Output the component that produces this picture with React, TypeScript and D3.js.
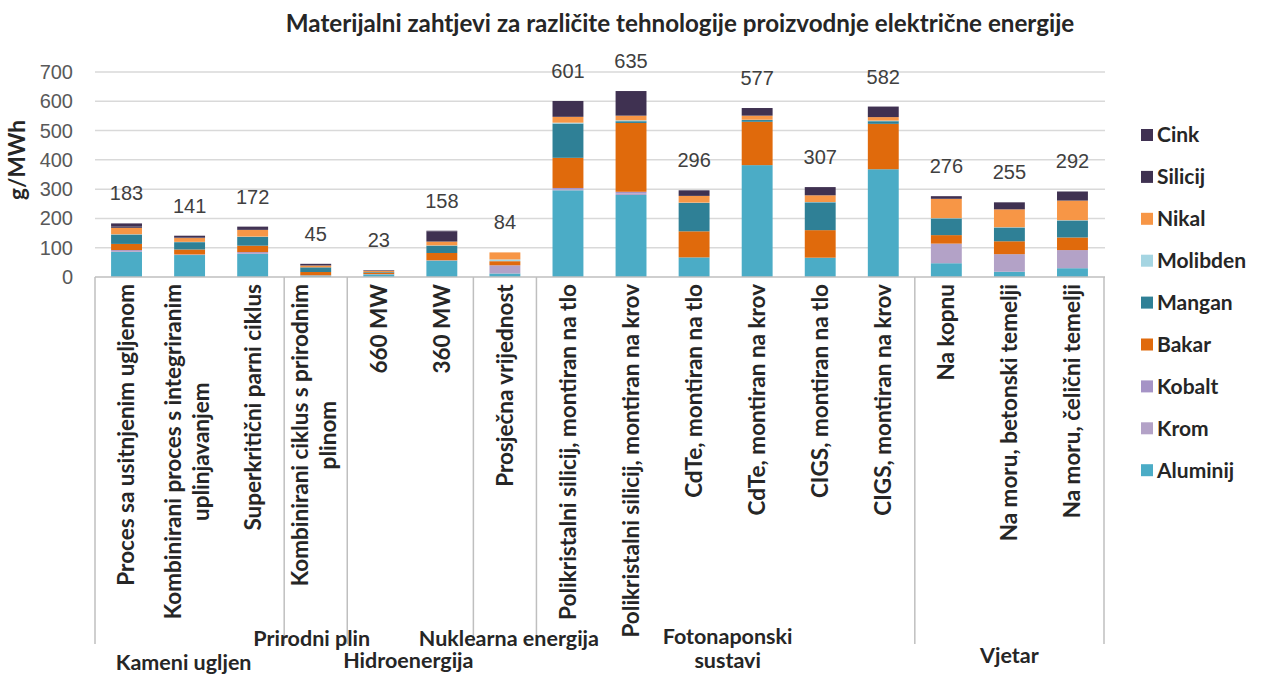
import React from "react";
import * as d3 from "d3";

const title = "Materijalni zahtjevi za različite tehnologije proizvodnje električne energije";
const yAxisTitle = "g/MWh";

const categories = [
  "Proces sa usitnjenim ugljenom",
  "Kombinirani proces s integriranim\nuplinjavanjem",
  "Superkritični parni ciklus",
  "Kombinirani ciklus s prirodnim\nplinom",
  "660 MW",
  "360 MW",
  "Prosječna vrijednost",
  "Polikristalni silicij, montiran na tlo",
  "Polikristalni silicij, montiran na krov",
  "CdTe, montiran na tlo",
  "CdTe, montiran na krov",
  "CIGS, montiran na tlo",
  "CIGS, montiran na krov",
  "Na kopnu",
  "Na moru, betonski temelji",
  "Na moru, čelični temelji",
];

const groups = [
  { name: "Kameni ugljen", count: 3 },
  { name: "Prirodni plin", count: 1 },
  { name: "Hidroenergija", count: 2 },
  { name: "Nuklearna energija", count: 1 },
  { name: "Fotonaponski\nsustavi", count: 6 },
  { name: "Vjetar", count: 3 },
];

const totals = [183, 141, 172, 45, 23, 158, 84, 601, 635, 296, 577, 307, 582, 276, 255, 292];

// series, bottom to top
const aluminij = [86, 75, 79, 5, 9, 56, 12, 296, 280, 67, 382, 66, 368, 47, 18, 30];
const krom = [3, 1, 3, 1, 1, 1, 28, 4, 6, 0, 0, 0, 0, 67, 60, 62];
const kobalt = [3, 1, 3, 0, 0, 0, 0, 4, 5, 0, 0, 0, 0, 0, 0, 0];
const bakar = [21, 17, 22, 11, 5, 25, 14, 103, 235, 89, 148, 94, 155, 29, 44, 43];
const mangan = [32, 25, 30, 16, 2, 25, 0, 117, 6, 97, 6, 95, 9, 57, 47, 58];
const molibden = [1, 1, 1, 0, 0, 1, 6, 3, 3, 1, 1, 1, 2, 1, 1, 1];
const nikal = [22, 13, 23, 6, 4, 13, 24, 20, 16, 23, 14, 23, 12, 66, 61, 67];
const silicij = [4, 2, 3, 1, 0, 35, 0, 54, 84, 19, 26, 28, 36, 0, 24, 31];
const cink = [11, 6, 8, 5, 2, 2, 0, 0, 0, 0, 0, 0, 0, 9, 0, 0];

const seriesNames = ["Aluminij", "Krom", "Kobalt", "Bakar", "Mangan", "Molibden", "Nikal", "Silicij", "Cink"];
const seriesValues = [aluminij, krom, kobalt, bakar, mangan, molibden, nikal, silicij, cink];
const seriesColors = ["#4BACC6", "#B3A2C7", "#A593C6", "#E06A0C", "#2F8096", "#A5D5E2", "#F79646", "#3F3151", "#403152"];

const yTicks = [0, 100, 200, 300, 400, 500, 600, 700];

const W = 1261;
const H = 674;
const plotLeft = 95;
const plotRight = 1104;
const yBottom = 277;
const yTop = 72;

const catFont = "Lato, sans-serif";

function measure(text: string, font: string): number {
  const c = document.createElement("canvas");
  const ctx = c.getContext("2d");
  if (!ctx) return text.length * 9;
  ctx.font = font;
  return ctx.measureText(text).width;
}

export default function App() {
  const x = d3.scaleBand<number>().domain(d3.range(categories.length)).range([plotLeft, plotRight]).paddingInner(0.51).paddingOuter(0.255);
  const step = (plotRight - plotLeft) / categories.length;
  const y = d3.scaleLinear().domain([0, 700]).range([yBottom, yTop]);

  const table = categories.map((_, i) => {
    const row: Record<string, number> = { idx: i };
    seriesNames.forEach((s, k) => (row[s] = seriesValues[k][i]));
    return row;
  });
  const stacked = d3.stack<Record<string, number>>().keys(seriesNames)(table);

  // group boundaries
  const bounds: number[] = [plotLeft];
  let acc = 0;
  groups.forEach((g) => {
    acc += g.count;
    bounds.push(plotLeft + acc * step);
  });

  const catFontSize = 22.5;
  const catFontStr = `bold ${catFontSize}px Lato`;
  const groupY = [[670], [646], [668], [646], [644, 668], [663]];
  const groupDx = [-6, -4, -2, 4, 2, 0];

  const legendOrder = seriesNames.map((n, i) => ({ n, c: seriesColors[i] })).reverse();

  return (
    <svg width={W} height={H} style={{ position: "absolute", left: 0, top: 0, background: "#fff" }}>
      <text x={680} y={32} textAnchor="middle" fontFamily={catFont} fontWeight={700} fontSize={24.2} fill="#262626">
        {title}
      </text>

      {yTicks.map((t) =>
        t === 0 ? null : (
          <line key={"g" + t} x1={plotLeft} x2={1105} y1={y(t)} y2={y(t)} stroke="#D9D9D9" strokeWidth={1.5} />
        )
      )}
      {yTicks.map((t) => (
        <text key={"t" + t} x={73} y={y(t) + 7} textAnchor="end" fontFamily="Liberation Sans, Arial, sans-serif" fontSize={20} fill="#595959">
          {t}
        </text>
      ))}
      <text
        transform={`translate(25,160) rotate(-90)`}
        textAnchor="middle"
        fontFamily={catFont}
        fontWeight={700}
        fontSize={22.5}
        fill="#262626"
      >
        {yAxisTitle}
      </text>

      {stacked.map((layer, k) => (
        <g key={layer.key} fill={seriesColors[k]}>
          {layer.map((d, i) =>
            d[1] - d[0] > 0 ? (
              <rect key={i} x={x(i)} width={x.bandwidth()} y={y(d[1])} height={y(d[0]) - y(d[1])} />
            ) : null
          )}
        </g>
      ))}

      {totals.map((v, i) => (
        <text
          key={"v" + i}
          x={(x(i) as number) + x.bandwidth() / 2}
          y={y(v) - 23}
          textAnchor="middle"
          fontFamily="Liberation Sans, Arial, sans-serif"
          fontSize={20}
          fill="#404040"
        >
          {v}
        </text>
      ))}

      <line x1={plotLeft} x2={1105} y1={yBottom} y2={yBottom} stroke="#BFBFBF" strokeWidth={1.5} />
      {bounds.map((b, i) => (
        <line key={"b" + i} x1={b} x2={b} y1={yBottom} y2={644} stroke="#BFBFBF" strokeWidth={1.5} />
      ))}

      {categories.map((c, i) => {
        const cx = (x(i) as number) + x.bandwidth() / 2;
        const lines = c.split("\n");
        const lens = lines.map((l) => measure(l, catFontStr));
        const maxLen = Math.max(...lens);
        const top = 284;
        const spacing = 28;
        const n = lines.length;
        return (
          <g key={"c" + i}>
            {lines.map((l, j) => {
              const off = (j - (n - 1) / 2) * spacing - (n > 1 ? 2 : 0);
              const center = top + maxLen / 2;
              return (
                <text
                  key={j}
                  transform={`translate(${cx + off},${center}) rotate(-90)`}
                  textAnchor="middle"
                  dy="0.35em"
                  fontFamily={catFont}
                  fontWeight={700}
                  fontSize={catFontSize}
                  fill="#262626"
                >
                  {l}
                </text>
              );
            })}
          </g>
        );
      })}

      {groups.map((g, gi) => {
        const cx = (bounds[gi] + bounds[gi + 1]) / 2 + groupDx[gi];
        return g.name.split("\n").map((l, j) => (
          <text
            key={"gr" + gi + "_" + j}
            x={cx}
            y={groupY[gi][j]}
            textAnchor="middle"
            fontFamily={catFont}
            fontWeight={700}
            fontSize={21.5}
            fill="#262626"
          >
            {l}
          </text>
        ));
      })}

      {legendOrder.map((s, i) => {
        const cy = 135 + i * 41.9;
        return (
          <g key={"l" + i}>
            <rect x={1141} y={cy - 6} width={12} height={12} fill={s.c} />
            <text x={1157} y={cy} dy="0.35em" fontFamily={catFont} fontWeight={700} fontSize={21} fill="#262626">
              {s.n}
            </text>
          </g>
        );
      })}
    </svg>
  );
}
